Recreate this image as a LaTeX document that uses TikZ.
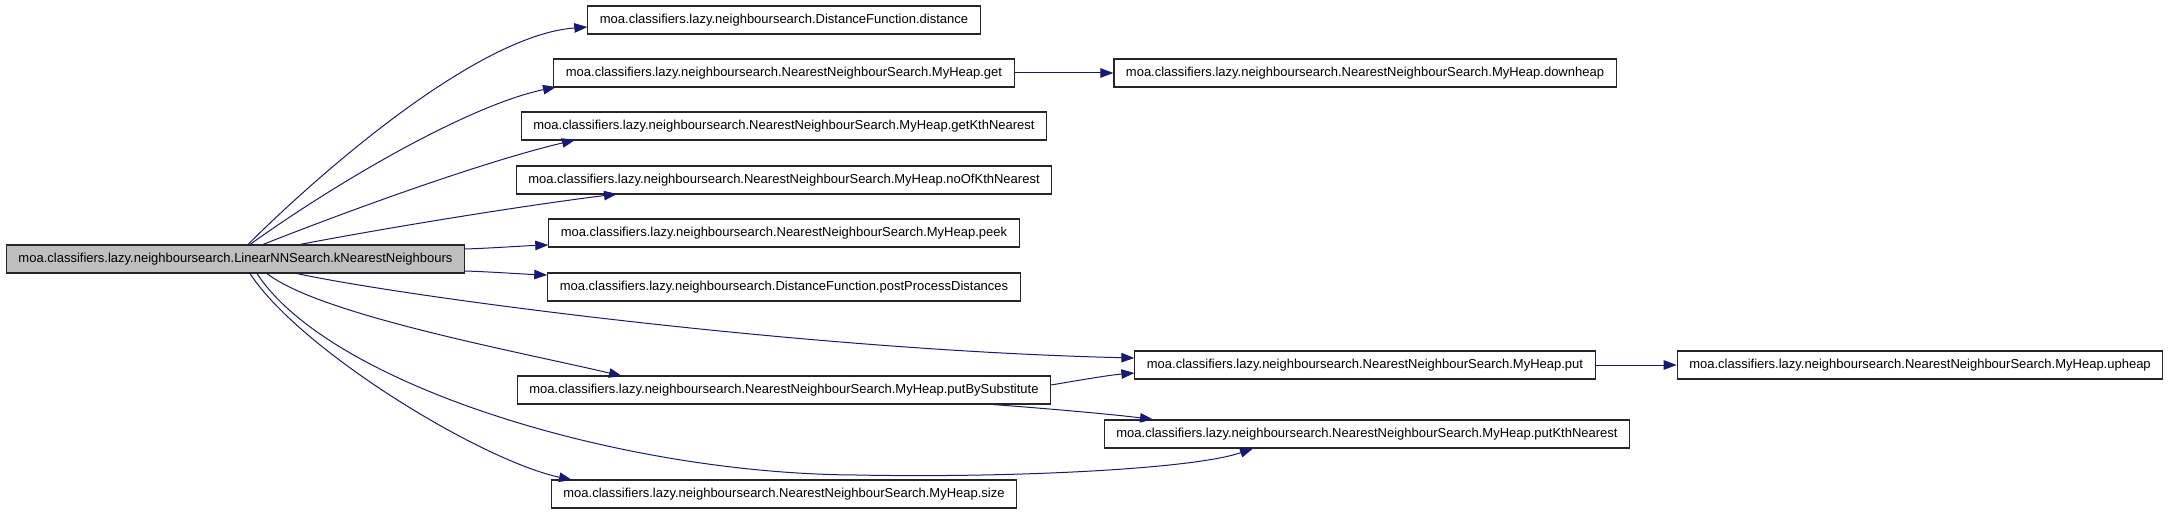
\documentclass[tikz,border=0pt]{standalone}
\usepackage{fontspec}
\newfontfamily\labelfont{Liberation Sans}
\usetikzlibrary{arrows.meta,calc}
\definecolor{edgeblue}{HTML}{191970}
\definecolor{mainfill}{HTML}{BFBFBF}
\begin{document}
\begin{tikzpicture}[x=1bp,y=-1bp,
  box/.style={draw=black!85, line width=1.1bp, minimum height=28bp, inner xsep=12bp, inner ysep=0pt,
    font={\labelfont\fontsize{13bp}{15bp}\selectfont}, fill=white, text=black},
  mainbox/.style={box, fill=mainfill},
  edge/.style={draw=edgeblue, line width=1bp, -{Triangle[length=13bp,width=9.5bp]}}]
\useasboundingbox (0,0) rectangle (2171,515);
% nodes
\node[mainbox] (main) at (235.5,259) {moa.classifiers.lazy.neighboursearch.LinearNNSearch.kNearestNeighbours};
\node[box] (dist) at (784,20) {moa.classifiers.lazy.neighboursearch.DistanceFunction.distance};
\node[box] (get) at (784,73) {moa.classifiers.lazy.neighboursearch.NearestNeighbourSearch.MyHeap.get};
\node[box] (getk) at (784,126) {moa.classifiers.lazy.neighboursearch.NearestNeighbourSearch.MyHeap.getKthNearest};
\node[box] (noof) at (784,180) {moa.classifiers.lazy.neighboursearch.NearestNeighbourSearch.MyHeap.noOfKthNearest};
\node[box] (peek) at (784,233) {moa.classifiers.lazy.neighboursearch.NearestNeighbourSearch.MyHeap.peek};
\node[box] (post) at (784,287) {moa.classifiers.lazy.neighboursearch.DistanceFunction.postProcessDistances};
\node[box] (pbs) at (784,390) {moa.classifiers.lazy.neighboursearch.NearestNeighbourSearch.MyHeap.putBySubstitute};
\node[box] (size) at (784,494) {moa.classifiers.lazy.neighboursearch.NearestNeighbourSearch.MyHeap.size};
\node[box] (down) at (1365,73) {moa.classifiers.lazy.neighboursearch.NearestNeighbourSearch.MyHeap.downheap};
\node[box] (put) at (1365,365) {moa.classifiers.lazy.neighboursearch.NearestNeighbourSearch.MyHeap.put};
\node[box] (putk) at (1367,434) {moa.classifiers.lazy.neighboursearch.NearestNeighbourSearch.MyHeap.putKthNearest};
\node[box] (up) at (1920,365) {moa.classifiers.lazy.neighboursearch.NearestNeighbourSearch.MyHeap.upheap};
% edges from main
\draw[edge] ($(main.north)+(12.5,0)$) .. controls (328,165) and (480,35) .. ($(dist.west)+(0,7)$);
\draw[edge] ($(main.north)+(14.5,0)$) .. controls (340,180) and (470,105) .. ($(get.center)+(-228,14)$);
\draw[edge] ($(main.north)+(27.5,0)$) .. controls (363,205) and (490,160) .. ($(getk.center)+(-209,14)$);
\draw[edge] ($(main.north)+(64.5,0)$) .. controls (380,229) and (520,206) .. ($(noof.center)+(-167,14)$);
\draw[edge] ($(main.east)+(0,-10)$) .. controls (495,248) and (520,246) .. ($(peek.west)+(0,12)$);
\draw[edge] ($(main.east)+(0,12)$) .. controls (495,272) and (520,274) .. ($(post.west)+(0,-12)$);
\draw[edge] ($(main.south)+(61.5,0)$) .. controls (400,296) and (800,350) .. ($(put.west)+(0,-7)$);
\draw[edge] ($(main.south)+(31.5,0)$) .. controls (320,315) and (520,352) .. ($(pbs.center)+(-162,-14)$);
\draw[edge] ($(main.south)+(21.5,0)$) .. controls (330,385) and (620,474) .. (857,475)
   .. controls (1000,478) and (1190,470) .. ($(putk.south)+(-114,0)$);
\draw[edge] ($(main.south)+(14.5,0)$) .. controls (300,350) and (480,460) .. ($(size.center)+(-212,-14)$);
% other edges
\draw[edge] (get.east) -- (down.west);
\draw[edge] (put.east) -- (up.west);
\draw[edge] ($(pbs.east)+(0,-5)$) .. controls (1080,380) and (1110,375) .. ($(put.west)+(0,8)$);
\draw[edge] ($(pbs.south)+(209,0)$) .. controls (1040,408) and (1110,414) .. ($(putk.north)+(-214,0)$);
\end{tikzpicture}
\end{document}
